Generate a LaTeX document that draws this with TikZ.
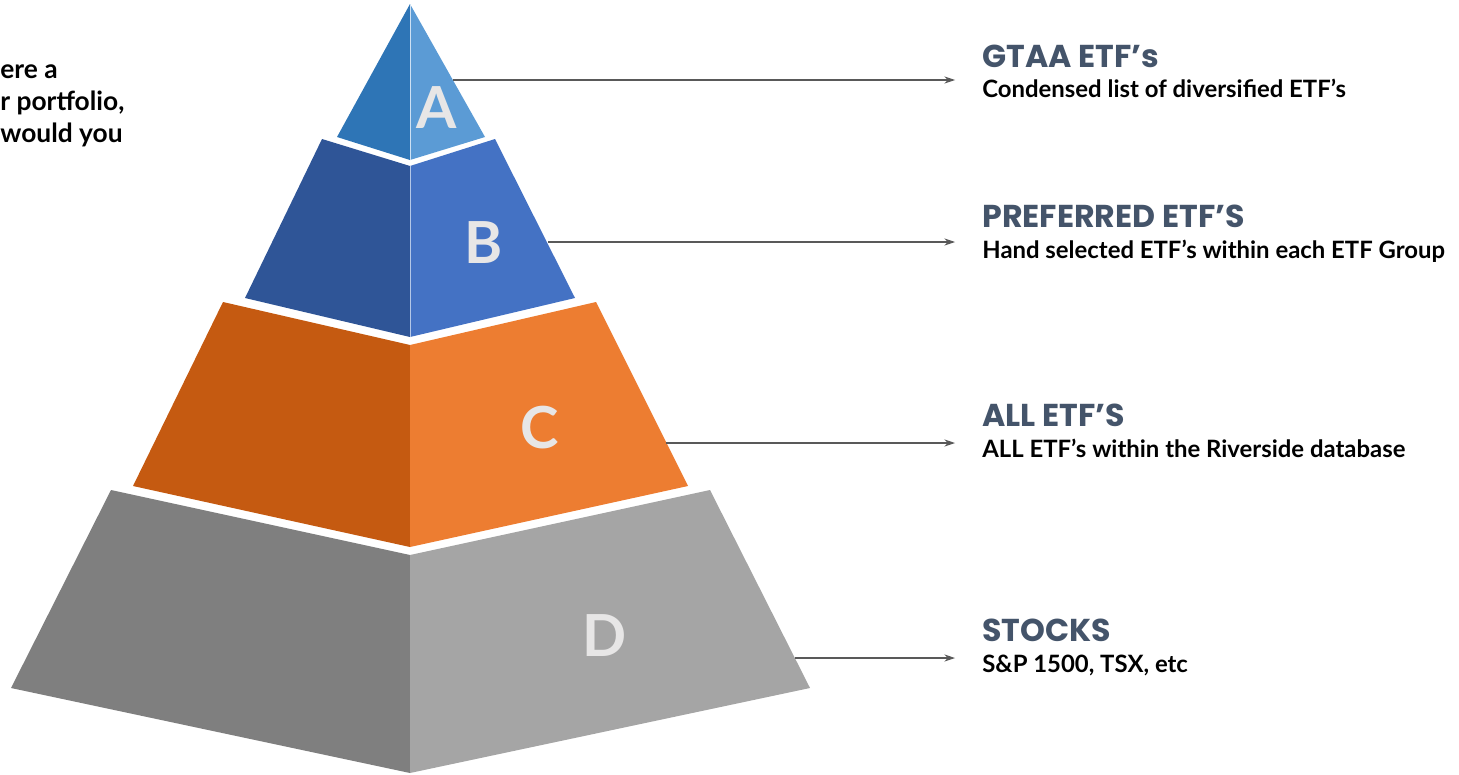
\documentclass[tikz,border=0pt]{standalone}
\usepackage{fontspec}
\setmainfont{Lato}
\newfontfamily\headfont{Poppins}[BoldFont={* Bold}]
\usepackage{tikz}
\usetikzlibrary{arrows.meta,positioning}
\definecolor{tierAl}{HTML}{2E75B6}
\definecolor{tierAr}{HTML}{5B9BD5}
\definecolor{tierBl}{HTML}{2F5597}
\definecolor{tierBr}{HTML}{4472C4}
\definecolor{tierCl}{HTML}{C55A11}
\definecolor{tierCr}{HTML}{ED7D31}
\definecolor{tierDl}{HTML}{7F7F7F}
\definecolor{tierDr}{HTML}{A5A5A5}
\definecolor{headgray}{HTML}{44546A}
\definecolor{lettergray}{HTML}{E7E6E6}

\begin{document}
\begin{tikzpicture}[x=0.02cm, y=-0.02cm,
    letter/.style={font=\fontsize{33}{33}\selectfont\bfseries, text=lettergray, inner sep=0pt},
    head/.style={font=\headfont\fontsize{18}{18}\selectfont\bfseries, text=headgray, anchor=base west, inner sep=0pt},
    sub/.style={font=\fontsize{13.6}{13.6}\selectfont\bfseries, anchor=base west, inner sep=0pt},
    pointer/.style={draw=black!65, line width=0.6pt, -{Stealth[length=6pt,width=4pt]}},
]
\useasboundingbox (0,0) rectangle (1459,774);

% Pyramid
\fill[tierAl] (410,4) -- (410,160) -- (337,137) -- cycle;
\fill[tierAr] (410,4) -- (485,137) -- (410,160) -- cycle;
\fill[tierBl] (322,139) -- (410,166) -- (410,337) -- (245,298) -- cycle;
\fill[tierBr] (410,166) -- (495,139) -- (575,298) -- (410,337) -- cycle;
\fill[tierCl] (223,302) -- (410,345) -- (410,547) -- (133,486) -- cycle;
\fill[tierCr] (410,345) -- (596,302) -- (688,486) -- (410,547) -- cycle;
\fill[tierDl] (111,490) -- (410,555) -- (410,773) -- (11,688) -- cycle;
\fill[tierDr] (410,555) -- (710,490) -- (810,688) -- (410,773) -- cycle;
\draw[white!70!tierAr, line width=0.4pt] (410,4) -- (410,160);
\draw[white!60!tierBr, line width=0.4pt] (410,166) -- (410,337);

\node[letter] (la) at (437,108) {A};
\node[letter] (lb) at (484,243) {B};
\node[letter] (lc) at (540,428) {C};
\node[letter] (ld) at (605,636) {D};

% Question
\node[font=\fontsize{15}{18.2}\selectfont\bfseries, align=left, anchor=north west, inner sep=0pt] (question) at (0,64) {ere a\\r portfolio,\\would you};

% Labels
\node[head] (gtaa) at (982,67) {GTAA ETF’s};
\node[sub] (gtaasub) at (982,97) {Condensed list of diversified ETF’s};
\node[head] (pref) at (982,227) {PREFERRED ETF’S};
\node[sub] (prefsub) at (982,258) {Hand selected ETF’s within each ETF Group};
\node[head] (all) at (982,426) {ALL ETF’S};
\node[sub] (allsub) at (982,457) {ALL ETF’s within the Riverside database};
\node[head] (stocks) at (982,641) {STOCKS};
\node[sub] (stockssub) at (982,672) {S\&P 1500, TSX, etc};

\coordinate (pa) at (453,80);  \coordinate (ea) at (955,80);
\coordinate (pb) at (548,242); \coordinate (eb) at (955,242);
\coordinate (pc) at (666,443); \coordinate (ec) at (955,443);
\coordinate (pd) at (795,658); \coordinate (ed) at (955,658);
\foreach \a/\b in {pa/ea, pb/eb, pc/ec, pd/ed}
    \draw[pointer] (\a) -- (\b);
\end{tikzpicture}
\end{document}
